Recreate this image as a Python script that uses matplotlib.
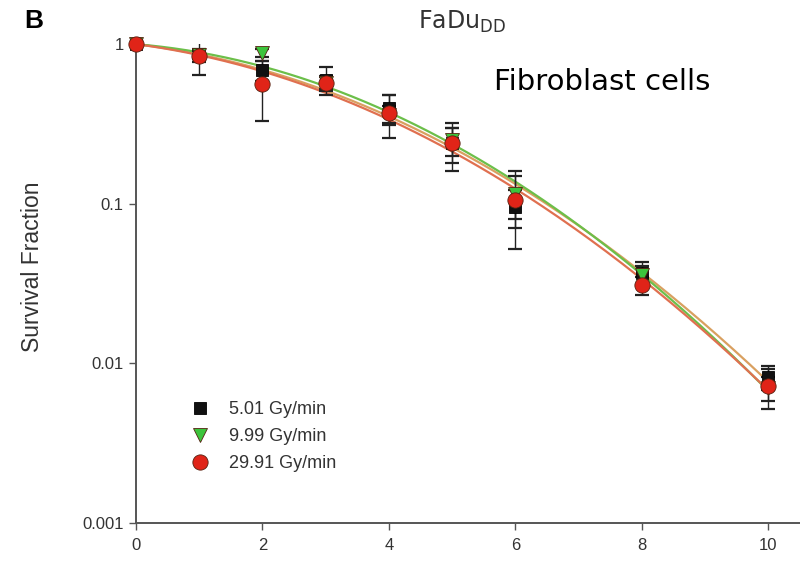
import matplotlib
matplotlib.use("Agg")
import matplotlib.pyplot as plt
import numpy as np
from matplotlib.ticker import FixedLocator, FixedFormatter, NullLocator

# Dose (Gy)
dose = [0, 1, 2, 3, 4, 5, 6, 8, 10]

# survival fraction per dose rate
sf_501 = [1.0, 0.85, 0.69, 0.60, 0.40, 0.24, 0.096, 0.037, 0.0082]
sf_999 = [1.0, 0.86, 0.88, 0.57, 0.36, 0.25, 0.115, 0.036, 0.0070]
sf_2991 = [1.0, 0.84, 0.56, 0.57, 0.37, 0.24, 0.106, 0.031, 0.0072]

# standard deviations
err_501 = [0.0, 0.08, 0.10, 0.12, 0.08, 0.06, 0.026, 0.006, 0.0014]
err_999 = [0.0, 0.05, 0.05, 0.06, 0.05, 0.05, 0.035, 0.005, 0.0012]
err_2991 = [0.0, 0.20, 0.23, 0.05, 0.11, 0.08, 0.054, 0.004, 0.0020]

labels = ["5.01 Gy/min", "9.99 Gy/min", "29.91 Gy/min"]
x_ticks = [0, 2, 4, 6, 8, 10]
y_ticks = [0.001, 0.01, 0.1, 1]
y_ticklabels = ["0.001", "0.01", "0.1", "1"]


def lq_fit(d, s):
    # linear-quadratic model: ln S = -a*D - b*D^2
    d = np.asarray(d, float)
    A = np.column_stack([d, d ** 2])
    coef, *_ = np.linalg.lstsq(A, -np.log(np.asarray(s, float)), rcond=None)
    return coef


fig = plt.figure(figsize=(8, 5.64), dpi=100)
ax = fig.add_axes([0.17, 0.0727, 0.83, 0.849])

series = [
    (sf_501, err_501, "s", "#111111", "#d9a060", 9),
    (sf_999, err_999, "v", "#3cc43c", "#6cbf4a", 10),
    (sf_2991, err_2991, "o", "#e02418", "#e07050", 11),
]

# fit curves
d_fine = np.linspace(0, 10, 200)
for sf, err, mk, col, lcol, ms in series:
    a, b = lq_fit(dose, sf)
    ax.plot(d_fine, np.exp(-a * d_fine - b * d_fine ** 2), color=lcol, lw=1.6, zorder=2)

# error bars
for sf, err, mk, col, lcol, ms in series:
    ax.errorbar(dose, sf, yerr=err, fmt="none", ecolor="#222222", elinewidth=1.0,
                capsize=5, capthick=1.6, zorder=3)

# markers
handles = []
for (sf, err, mk, col, lcol, ms), lab in zip(series, labels):
    h, = ax.plot(dose, sf, linestyle="none", marker=mk, markersize=ms,
                 markerfacecolor=col, markeredgecolor="#552211" if mk != "s" else "#000000",
                 markeredgewidth=0.6, clip_on=False, zorder=4, label=lab)
    handles.append(h)

ax.set_yscale("log")
ax.set_xlim(0, 10.5)
ax.set_ylim(0.001, 1)
ax.xaxis.set_major_locator(FixedLocator(x_ticks))
ax.yaxis.set_major_locator(FixedLocator(y_ticks))
ax.yaxis.set_major_formatter(FixedFormatter(y_ticklabels))
ax.yaxis.set_minor_locator(NullLocator())

for s in ["top", "right"]:
    ax.spines[s].set_visible(False)
for s in ["left", "bottom"]:
    ax.spines[s].set_color("#555555")
    ax.spines[s].set_linewidth(1.4)

ax.tick_params(direction="out", length=5, width=1, color="#555555",
               labelsize=12, labelcolor="#333333", pad=6)
ax.tick_params(axis="y", pad=4)
for t in ax.get_xticklabels() + ax.get_yticklabels():
    t.set_family("Liberation Sans")

ax.set_ylabel("Survival Fraction", family="Liberation Sans", fontsize=16.5,
              color="#333333")
ax.yaxis.set_label_coords(-0.138, 0.535)

leg = ax.legend(handles=handles, loc="lower left", bbox_to_anchor=(0.045, 0.072),
                frameon=False, handletextpad=0.6, labelspacing=0.55,
                prop={"family": "Liberation Sans", "size": 13})
for t in leg.get_texts():
    t.set_color("#333333")

fig.text(0.03, 0.963, "B", fontsize=19, fontweight="bold", family="Liberation Sans",
         ha="left", va="center")
fig.text(0.522, 0.962, r"FaDu$_{\mathregular{DD}}$", fontsize=17, color="#333333",
         family="DejaVu Sans", ha="left", va="center")
fig.text(0.617, 0.855, "Fibroblast cells", fontsize=21, color="black",
         family="DejaVu Sans", ha="left", va="center")

fig.savefig("out.png", dpi=100)
